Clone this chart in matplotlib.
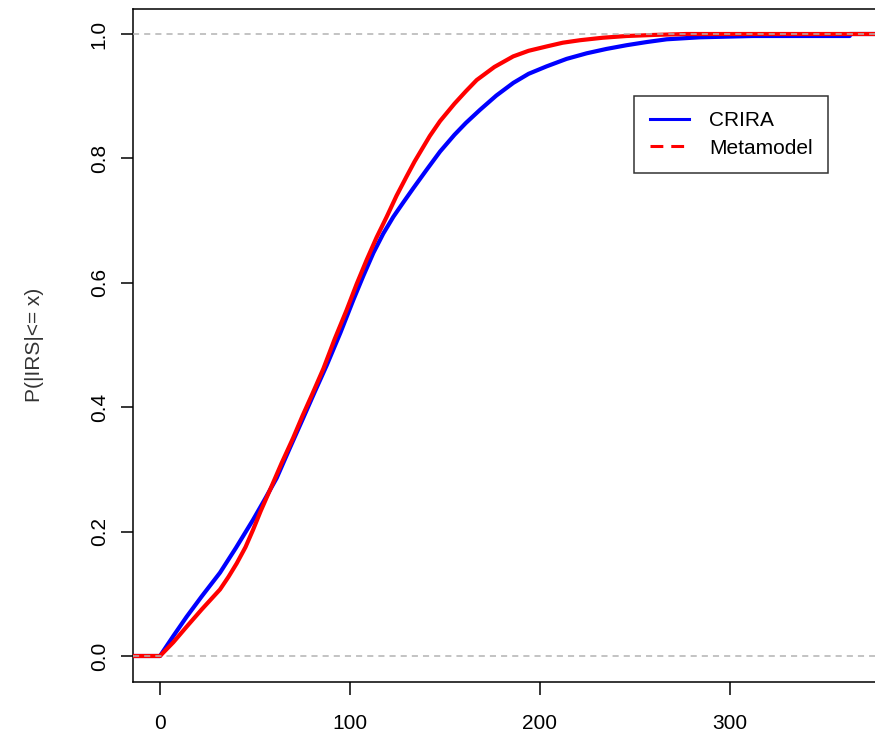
import matplotlib
matplotlib.use("Agg")
import matplotlib.pyplot as plt
from matplotlib.lines import Line2D

plt.rcParams['font.family'] = ['Liberation Sans', 'DejaVu Sans']

# ECDF of CRIRA
crira_x = [-15, 0, 7, 14, 22, 31.6, 40, 49, 55, 61.4, 68, 75, 81.5, 87.7, 95, 101.7, 107,
           112.3, 117.5, 122.8, 128, 133.3, 140.4, 147.4, 155, 161, 168.4, 177, 186, 194,
           203.5, 214, 224.6, 235, 245.6, 256, 266.7, 284, 312, 363, 363, 390]
crira_y = [0, 0, 0.032, 0.063, 0.096, 0.134, 0.174, 0.219, 0.251, 0.286, 0.332, 0.38, 0.425,
           0.467, 0.52, 0.572, 0.611, 0.648, 0.679, 0.706, 0.729, 0.752, 0.782, 0.811, 0.838,
           0.857, 0.878, 0.901, 0.9215, 0.936, 0.948, 0.96, 0.969, 0.976, 0.982, 0.987,
           0.9915, 0.9947, 0.9968, 0.9968, 1.0, 1.0]

# ECDF of Metamodel
meta_x = [-15, 0, 7, 14, 22, 31.6, 36, 40.4, 45, 49, 53, 57.9, 64, 70, 75, 80, 86, 92, 98.2,
          103.5, 108.8, 114, 119.3, 124.5, 129.8, 134, 137.7, 142, 147.4, 155, 161, 166.7,
          176, 185.9, 194, 203.5, 212, 221, 233, 245.6, 260, 277, 390]
meta_y = [0, 0, 0.022, 0.047, 0.075, 0.107, 0.127, 0.149, 0.175, 0.203, 0.233, 0.267, 0.31,
          0.35, 0.386, 0.42, 0.462, 0.51, 0.556, 0.598, 0.637, 0.673, 0.706, 0.74, 0.771,
          0.795, 0.814, 0.836, 0.86, 0.888, 0.908, 0.926, 0.947, 0.964, 0.973, 0.980, 0.986,
          0.990, 0.994, 0.9968, 0.9985, 1.0, 1.0]

x_ticks = [0, 100, 200, 300]
y_ticks = [0.0, 0.2, 0.4, 0.6, 0.8, 1.0]
y_label = "P(|IRS|<= x)"
series_names = ["CRIRA", "Metamodel"]
colors = ["#0000FF", "#FF0000"]

W, H = 875, 736
fig = plt.figure(figsize=(W / 100, H / 100), dpi=100)
left_px, right_px, top_px, bottom_px = 133, 882, 9, 682
ax = fig.add_axes([left_px / W, 1 - bottom_px / H, (right_px - left_px) / W, (bottom_px - top_px) / H])

ax.set_xlim(-14.2, 380)
ax.set_ylim(-0.0418, 1.0402)

ax.plot(crira_x, crira_y, color=colors[0], lw=3.0, solid_capstyle='butt',
        solid_joinstyle='round', zorder=3)
ax.plot(meta_x, meta_y, color=colors[1], lw=3.0, solid_capstyle='butt',
        solid_joinstyle='round', zorder=4)

for yv in (0.0, 1.0):
    ax.axhline(yv, color='#B3B3B3', lw=1.1, dashes=(4, 3.3), zorder=5)

for s in ax.spines.values():
    s.set_linewidth(1.1)
    s.set_color('black')

ax.set_xticks(x_ticks)
ax.set_xticklabels([str(v) for v in x_ticks])
ax.set_yticks(y_ticks)
ax.set_yticklabels([f"{v:.1f}" for v in y_ticks], rotation=90, va='center')
ax.tick_params(axis='both', direction='out', length=9, width=1.1, labelsize=15, colors='black')
ax.tick_params(axis='x', pad=14)
ax.tick_params(axis='y', pad=8.5)

fig.text(34 / W, 1 - 345 / H, y_label, rotation=90, ha='center', va='center',
         fontsize=15, color='#333333')

handles = [Line2D([], [], color=colors[0], lw=2.2),
           Line2D([], [], color=colors[1], lw=2.2, dashes=(4.2, 2.6))]
leg = ax.legend(handles, series_names, loc='upper left', bbox_to_anchor=(0.669, 0.871),
                borderaxespad=0, fontsize=15, frameon=True, fancybox=False,
                edgecolor='black', handlelength=1.9, handletextpad=0.95,
                borderpad=0.75, labelspacing=0.4)
leg.get_frame().set_linewidth(1.1)
leg.set_zorder(10)

fig.savefig("out.png", dpi=100)
